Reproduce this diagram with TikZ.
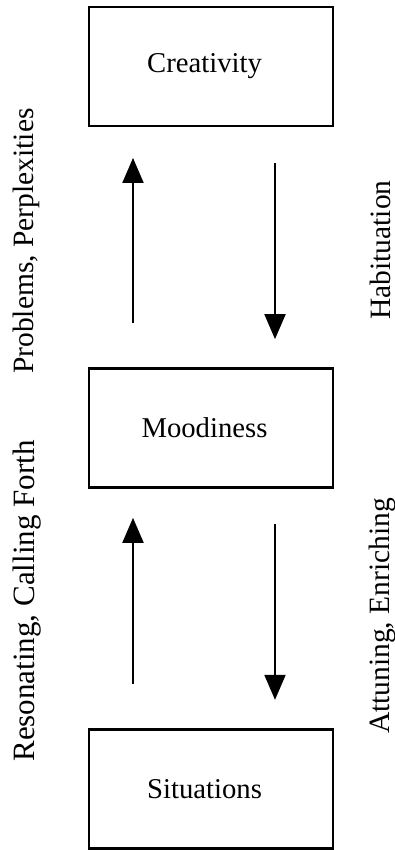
\documentclass[tikz,border=0pt]{standalone}
\usepackage{fontspec}
\setmainfont{Liberation Serif}
\usetikzlibrary{arrows.meta}
\begin{document}
\begin{tikzpicture}[x=1pt,y=1pt,
  box/.style={draw=black, line width=2.7pt, minimum width=244pt, minimum height=119pt,
    inner sep=0pt, font=\fontsize{28.7}{34}\selectfont,
    execute at begin node={\hspace*{-13pt}}},
  arr/.style={line width=2pt, -{Triangle[width=21pt,length=25pt]}},
  lab/.style={rotate=90, inner sep=0pt, font=\fontsize{29.5}{34}\selectfont}]
\useasboundingbox (0,0) rectangle (395,850);
\fill[white] (0,0) rectangle (395,850);
\node[box] (cre) at (211,783.5) {Creativity};
\node[box] (mood) at (211,422) {Moodiness};
\node[box] (sit) at (211,61.3) {Situations};
% upper pair
\draw[arr, shorten <=44pt, shorten >=30.6pt] ([xshift=-78pt]mood.north) -- ([xshift=-78pt]cre.south);
\draw[arr, shorten <=35.6pt, shorten >=28pt] ([xshift=64pt]cre.south) -- ([xshift=64pt]mood.north);
% lower pair
\draw[arr, shorten <=44pt, shorten >=29pt] ([xshift=-78pt]sit.north) -- ([xshift=-78pt]mood.south);
\draw[arr, shorten <=35pt, shorten >=28pt] ([xshift=64pt]mood.south) -- ([xshift=64pt]sit.north);
% labels
\node[lab] (l1) at (26,609) {Problems, Perplexities};
\node[lab] (l2) at (380,600) {Habituation};
\node[lab, font=\fontsize{31}{36}\selectfont] (l3) at (27,249) {Resonating, Calling Forth};
\node[lab] (l4) at (382,234) {Attuning, Enriching};
\end{tikzpicture}
\end{document}
